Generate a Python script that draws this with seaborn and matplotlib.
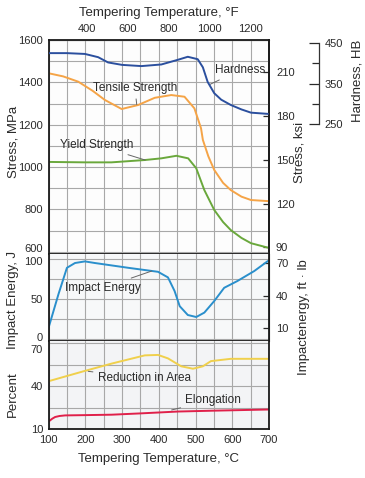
import matplotlib
matplotlib.use('Agg')
import matplotlib.pyplot as plt
import matplotlib.transforms as mtransforms
import seaborn as sns

# tempering temperature (C) / property values
temp_hard = [100, 150, 199, 235, 262, 300, 353, 407, 450, 479, 506, 520, 533, 551, 570, 596, 625, 651, 697]
hardness_hb = [425, 425, 423, 415, 402, 396, 393, 397, 408, 416, 410, 390, 354, 326, 310, 297, 286, 278, 275]

temp_ts = [100, 140, 181, 220, 253, 299, 344, 389, 434, 470, 497, 515, 520, 535, 551, 575, 596, 625, 651, 697]
tensile_mpa = [1443, 1428, 1403, 1360, 1317, 1274, 1293, 1327, 1340, 1332, 1277, 1183, 1128, 1050, 986, 925, 891, 860, 844, 839]

temp_ys = [100, 200, 271, 362, 407, 448, 480, 502, 524, 551, 575, 596, 625, 651, 697]
yield_mpa = [1024, 1022, 1022, 1033, 1041, 1053, 1041, 994, 891, 797, 740, 702, 665, 640, 619]

temp_ie = [100, 127, 150, 172, 199, 226, 317, 398, 425, 443, 457, 479, 502, 524, 551, 578, 614, 660, 697]
impact_j = [14, 56, 89, 95, 97, 95, 89, 84, 77, 60, 41, 30, 27.5, 33, 47.5, 64, 72.5, 85, 97.5]

temp_ra = [100, 199, 272, 362, 398, 425, 461, 493, 520, 542, 596, 697]
reduction_pct = [43.6, 50.8, 55.9, 61.6, 61.9, 59.5, 54, 52.3, 54, 57.6, 59.2, 59.2]

temp_el = [100, 110, 118, 130, 145, 200, 272, 350, 452, 550, 697]
elongation_pct = [15.5, 17.5, 18.7, 19.4, 19.8, 20.0, 20.3, 21.2, 22.5, 23.1, 23.9]

c_hard = '#2b4f9e'
c_ts = '#f5a447'
c_ys = '#6aa83c'
c_ie = '#2a8fcc'
c_ra = '#f0d04c'
c_el = '#e0204a'
txt = '#2a2a2a'
grid_c = '#a8a8a8'

sns.set_style('white')
plt.rcParams['font.family'] = ['Liberation Sans Narrow', 'Liberation Sans', 'DejaVu Sans']
plt.rcParams['text.color'] = txt
plt.rcParams['axes.labelcolor'] = txt
plt.rcParams['xtick.color'] = txt
plt.rcParams['ytick.color'] = txt

fig = plt.figure(figsize=(3.65, 4.78), dpi=100)
ax1 = fig.add_axes([0.133, 0.4686, 0.604, 0.4477])
ax2 = fig.add_axes([0.133, 0.2866, 0.604, 0.1820])
ax3 = fig.add_axes([0.133, 0.1015, 0.604, 0.1851])

fs_tick = 8
fs_lab = 9.5
fs_ann = 8.5

for ax in (ax1, ax2, ax3):
    ax.set_xlim(100, 700)
    ax.set_xticks(range(100, 701, 100))
    ax.set_xticks(range(150, 700, 100), minor=True)
    ax.grid(True, which='both', color=grid_c, lw=0.8)
    ax.set_axisbelow(True)
    ax.tick_params(which='both', length=0, labelsize=fs_tick, pad=4)
    for s in ax.spines.values():
        s.set_color('#1a1a1a')
        s.set_linewidth(1.3)
    ax.set_xlabel('')
    ax.set_ylabel('')

ax2.spines['top'].set_visible(False)
ax3.spines['top'].set_visible(False)
ax1.set_facecolor('#fdfdfd')
ax2.set_facecolor('#f7f8f9')
ax3.set_facecolor('#f3f4f6')

# ---- stress panel
sns.lineplot(x=temp_ts, y=tensile_mpa, ax=ax1, color=c_ts, lw=1.4)
sns.lineplot(x=temp_ys, y=yield_mpa, ax=ax1, color=c_ys, lw=1.4)
ax1.set_ylim(589, 1600)
ax1.set_yticks(range(600, 1601, 200))
ax1.set_yticks(range(700, 1600, 200), minor=True)
ax1.tick_params(labelbottom=False)

ax_hb = ax1.twinx()
sns.lineplot(x=temp_hard, y=hardness_hb, ax=ax_hb, color=c_hard, lw=1.4)
ax_hb.set_ylim(-71, 457.4)
ax_hb.set_ylabel('')
for k in ('left', 'top', 'bottom'):
    ax_hb.spines[k].set_visible(False)
ax_hb.spines['right'].set_position(('axes', 1.227))
ax_hb.spines['right'].set_bounds(250, 450)
ax_hb.spines['right'].set_linewidth(0.9)
ax_hb.spines['right'].set_color('#333333')
ax_hb.set_yticks([250, 350, 450])
ax_hb.set_yticks([300, 400], minor=True)
ax_hb.tick_params(axis='y', which='major', direction='in', length=7, width=0.9, labelsize=fs_tick, pad=4)
ax_hb.tick_params(axis='y', which='minor', direction='in', length=5, width=0.9)
ax_hb.grid(False)

ksi = ax1.secondary_yaxis('right', functions=(lambda m: m / 6.895, lambda k: k * 6.895))
ksi.set_yticks([90, 120, 150, 180, 210])
ksi.tick_params(direction='in', length=4, width=0.9, labelsize=fs_tick, pad=5)
ksi.spines['right'].set_linewidth(1.3)

top = ax1.secondary_xaxis('top', functions=(lambda c: c * 9 / 5 + 32, lambda f: (f - 32) * 5 / 9))
top.set_xticks([400, 600, 800, 1000, 1200])
top.tick_params(length=0, labelsize=fs_tick, pad=4)
top.set_xlabel('Tempering Temperature, °F', fontsize=fs_lab, labelpad=6)

arrow = dict(arrowstyle='-', color='#666666', lw=0.7, shrinkA=1, shrinkB=0)
ax1.annotate('Hardness', xy=(539, 1390), xytext=(621, 1458), fontsize=fs_ann,
             ha='center', va='center', arrowprops=arrow)
ax1.annotate('Tensile Strength', xy=(340, 1295), xytext=(335, 1372), fontsize=fs_ann,
             ha='center', va='center', arrowprops=arrow)
ax1.annotate('Yield Strength', xy=(363, 1033), xytext=(231, 1104), fontsize=fs_ann,
             ha='center', va='center', arrowprops=arrow)

# ---- impact panel
sns.lineplot(x=temp_ie, y=impact_j, ax=ax2, color=c_ie, lw=1.4)
ax2.set_ylim(-2.5, 106.25)
ax2.set_yticks([0, 50, 100])
ax2.set_yticks([25, 75], minor=True)
ax2.tick_params(labelbottom=False)
ftlb = ax2.secondary_yaxis('right', functions=(lambda j: j * 0.7376, lambda f: f / 0.7376))
ftlb.set_yticks([10, 40, 70])
ftlb.tick_params(direction='in', length=4, width=0.9, labelsize=fs_tick, pad=5)
ax2.annotate('Impact Energy', xy=(381, 85), xytext=(248, 64), fontsize=fs_ann,
             ha='center', va='center', arrowprops=arrow)

# ---- percent panel
sns.lineplot(x=temp_ra, y=reduction_pct, ax=ax3, color=c_ra, lw=1.4)
sns.lineplot(x=temp_el, y=elongation_pct, ax=ax3, color=c_el, lw=1.4)
ax3.set_ylim(10, 71.6)
ax3.set_yticks([10, 40, 70])
ax3.set_yticks([25, 55], minor=True)
ax3.set_xlabel('Tempering Temperature, °C', fontsize=fs_lab, labelpad=6)
ax3.annotate('Reduction in Area', xy=(208, 50.5), xytext=(360, 45.7), fontsize=fs_ann,
             ha='center', va='center', arrowprops=arrow)
ax3.annotate('Elongation', xy=(435, 23.6), xytext=(548, 30.5), fontsize=fs_ann,
             ha='center', va='center', arrowprops=arrow)


# nudge edge labels apart the way the reference does
def nudge(labels, which, dy_px):
    for lab in labels:
        if lab.get_text() == which:
            lab.set_transform(lab.get_transform() +
                              mtransforms.ScaledTranslation(0, dy_px / 100, fig.dpi_scale_trans))


nudge(ax1.get_yticklabels(), '600', 4)
nudge(ax2.get_yticklabels(), '100', -2)
nudge(ax2.get_yticklabels(), '0', 2)
nudge(ax3.get_yticklabels(), '70', -6)

# ---- axis titles placed like the reference
W, H = 365.0, 478.0
fig.text(13 / W, 1 - 142 / H, 'Stress, MPa', rotation=90, ha='center', va='center', fontsize=fs_lab)
fig.text(13 / W, 1 - 300 / H, 'Impact Energy, J', rotation=90, ha='center', va='center', fontsize=fs_lab)
fig.text(13 / W, 1 - 394 / H, 'Percent', rotation=90, ha='center', va='center', fontsize=fs_lab)
fig.text(300 / W, 1 - 152 / H, 'Stress, ksi', rotation=90, ha='center', va='center', fontsize=fs_lab)
fig.text(304 / W, 1 - 317 / H, 'Impactenergy, ft · lb', rotation=90, ha='center', va='center', fontsize=fs_lab)
fig.text(357 / W, 1 - 81 / H, 'Hardness, HB', rotation=90, ha='center', va='center', fontsize=fs_lab)

fig.savefig('out.png', dpi=100)
